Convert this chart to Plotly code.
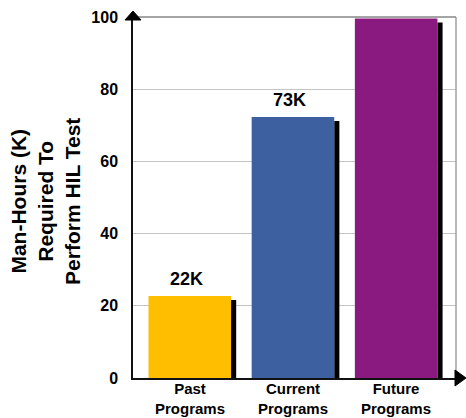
import plotly.graph_objects as go

# ---- data ----
categories = ["Past<br>Programs", "Current<br>Programs", "Future<br>Programs"]
values = [22.7, 72.3, 99.6]
bar_labels = ["22K", "73K", ""]
colors = ["#FFBF00", "#3C60A0", "#8B1A80"]
y_ticks = [0, 20, 40, 60, 80, 100]
y_title = "Man-Hours (K)<br>Required To<br>Perform HIL Test"

FONT = "Liberation Sans, Arial, sans-serif"
x = list(range(len(categories)))
bar_w = 0.80
shadow_w = 0.05
shadow_drop = 1.1

fig = go.Figure()
# drop shadows (right of each bar)
fig.add_trace(go.Bar(
    x=x, y=[v - shadow_drop for v in values], width=shadow_w, offset=bar_w / 2,
    marker=dict(color="black", line_width=0), hoverinfo="skip"))
# main bars
fig.add_trace(go.Bar(
    x=x, y=values, width=bar_w, offset=-bar_w / 2,
    marker=dict(color=colors, line_width=0)))

for xi, v, lab in zip(x, values, bar_labels):
    if lab:
        fig.add_annotation(x=xi, y=v, text=lab, showarrow=False, xref="x", yref="y",
                           yanchor="bottom", yshift=5, xshift=-3,
                           font=dict(family=FONT, size=18, color="black", weight="bold"))

# category labels
for xi, cat in zip(x, categories):
    fig.add_annotation(x=xi, y=0, xref="x", yref="paper", text=cat,
                       showarrow=False, yanchor="top", yshift=-1, borderpad=0,
                       font=dict(family=FONT, size=15, color="black", weight="bold"))

fig.add_annotation(x=-0.27, y=0.49, xref="paper", yref="paper", text=y_title,
                   showarrow=False, textangle=-90, xanchor="center", yanchor="middle",
                   font=dict(family=FONT, size=21, color="black", weight="bold"))

shapes = [
    # top border
    dict(type="line", xref="paper", yref="paper", x0=0, x1=1, y0=1, y1=1,
         line=dict(color="#4a4a4a", width=1.2)),
    # right border
    dict(type="line", xref="paper", yref="paper", x0=1, x1=1, y0=0, y1=1,
         line=dict(color="#8a8a8a", width=1.2)),
    # y-axis arrow
    dict(type="path", xref="paper", yref="paper", xsizemode="pixel", ysizemode="pixel",
         xanchor=0, yanchor=1, path="M-8,-3 L8,-3 L0,6 Z",
         fillcolor="black", line=dict(color="black", width=1)),
    # x-axis arrow
    dict(type="path", xref="paper", yref="paper", xsizemode="pixel", ysizemode="pixel",
         xanchor=1, yanchor=0, path="M-1,8 L-1,-8 L10,0 Z",
         fillcolor="black", line=dict(color="black", width=1)),
]

fig.update_layout(
    width=466, height=418, autosize=False,
    margin=dict(l=133, r=10, t=17, b=40, pad=0),
    paper_bgcolor="white", plot_bgcolor="white",
    barmode="overlay", showlegend=False,
    shapes=shapes,
    xaxis=dict(range=[-0.55, 2.58], tickvals=x, showticklabels=False,
               showline=True, linecolor="#111111", linewidth=1.5,
               showgrid=False, zeroline=False, ticks="", automargin=False),
    yaxis=dict(range=[0, 100], tickvals=y_ticks, automargin=False,
               showline=True, linecolor="#111111", linewidth=1.5,
               showgrid=True, gridcolor="#C4C4C4", gridwidth=1,
               zeroline=False, ticks="", ticklabelstandoff=10,
               tickfont=dict(family=FONT, size=16, color="black", weight="bold")),
)

fig.write_html("out.html")
